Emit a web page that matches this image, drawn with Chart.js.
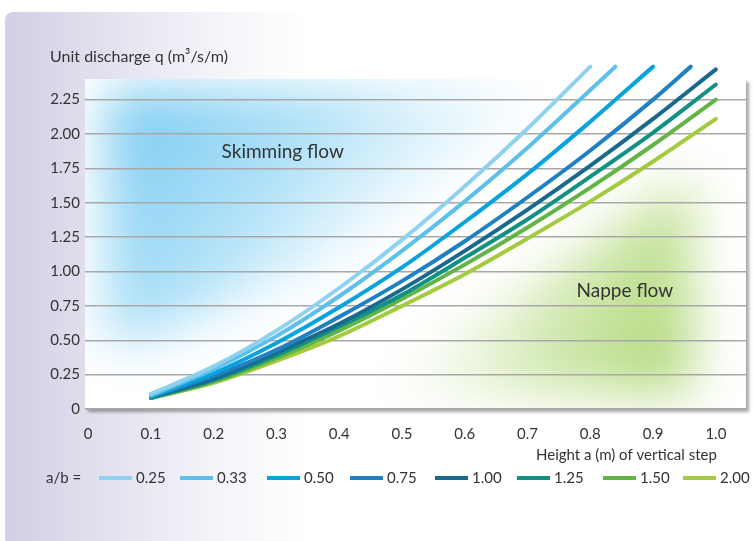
<!DOCTYPE html>
<html>
<head>
<meta charset="utf-8">
<script src="https://cdn.jsdelivr.net/npm/chart.js@4/dist/chart.umd.min.js"></script>
<style>
  html, body { margin: 0; padding: 0; background: #fff; }
  #card {
    position: absolute; left: 5px; top: 12px; width: 760px; height: 540px;
    border-radius: 8px 0 0 0;
    background: linear-gradient(90deg, #d3cfe4 0%, #e2dfed 12%, #f4f3f9 27%, #ffffff 40%);
  }
  #wrap { position: absolute; left: 0; top: 0; width: 753px; height: 541px; }
</style>
</head>
<body>
<div id="card"></div>
<div id="wrap"><canvas id="chart" width="753" height="541"></canvas></div>
<script>
// valeurs
const heights = [0.1, 0.2, 0.3, 0.4, 0.5, 0.6, 0.7, 0.8, 0.9];
const ratioLabels = ['0.25', '0.33', '0.50', '0.75', '1.00', '1.25', '1.50', '2.00'];
const colors = ['#8fd2f0', '#5cc0ea', '#08a3dd', '#1f80c2', '#19698f', '#119183', '#62b544', '#a3cb3d'];

// hauteur où chaque courbe s'arrête (dernier point)
const topHeight = [0.80, 0.84, 0.90, 0.96, 1.0, 1.0, 1.0, 1.0];

const q025 = [0.11, 0.31, 0.57, 0.88, 1.23, 1.62, 2.04, 2.49];
const q033 = [0.10, 0.29, 0.53, 0.82, 1.15, 1.51, 1.90, 2.32, 2.49];
const q050 = [0.09, 0.26, 0.48, 0.74, 1.03, 1.36, 1.71, 2.09, 2.49];
const q075 = [0.09, 0.24, 0.43, 0.67, 0.93, 1.22, 1.54, 1.88, 2.25, 2.49];
const q100 = [0.09, 0.22, 0.41, 0.62, 0.87, 1.15, 1.45, 1.77, 2.11, 2.47];
const q125 = [0.08, 0.21, 0.39, 0.60, 0.83, 1.10, 1.38, 1.69, 2.01, 2.36];
const q150 = [0.08, 0.20, 0.37, 0.57, 0.80, 1.05, 1.32, 1.61, 1.92, 2.25];
const q200 = [0.08, 0.19, 0.35, 0.53, 0.75, 0.98, 1.24, 1.51, 1.80, 2.11];
const series = [q025, q033, q050, q075, q100, q125, q150, q200];

const xTicks = [0, 0.1, 0.2, 0.3, 0.4, 0.5, 0.6, 0.7, 0.8, 0.9, 1.0];
const yTicks = [0, 0.25, 0.5, 0.75, 1.0, 1.25, 1.5, 1.75, 2.0, 2.25];

const FONT = 'Lato, "Open Sans", sans-serif';
const TEXT = '#333333';

function buildPoints(values, endX) {
  const pts = [];
  for (let i = 0; i < values.length - 1; i++) {
    pts.push({ x: heights[i], y: values[i] });
  }
  pts.push({ x: endX, y: values[values.length - 1] });
  return pts;
}

const datasets = series.map((vals, i) => ({
  label: ratioLabels[i],
  data: buildPoints(vals, topHeight[i]),
  borderColor: colors[i],
  borderWidth: 4,
  borderCapStyle: 'round',
  pointRadius: 0,
  cubicInterpolationMode: 'monotone',
  clip: false,
  order: i
}));

// fond du graphique : panneau blanc + zones floues (bleu / vert)
const panelPlugin = {
  id: 'panel',
  beforeDraw(chart) {
    const { ctx, chartArea: a, scales } = chart;
    const X = v => scales.x.getPixelForValue(v);
    const Y = v => scales.y.getPixelForValue(v);
    ctx.save();
    ctx.shadowColor = 'rgba(0,0,0,0.35)';
    ctx.shadowOffsetX = 3;
    ctx.shadowOffsetY = 3;
    ctx.shadowBlur = 3;
    ctx.fillStyle = '#fff';
    ctx.fillRect(a.left, a.top, a.right - a.left, a.bottom - a.top);
    ctx.restore();

    ctx.save();
    ctx.beginPath();
    ctx.rect(a.left, a.top, a.right - a.left, a.bottom - a.top);
    ctx.clip();

    // zone skimming
    ctx.filter = 'blur(26px)';
    const gb = ctx.createLinearGradient(X(0.08), Y(2.3), X(0.5), Y(0.7));
    gb.addColorStop(0, 'rgba(115,200,240,0.95)');
    gb.addColorStop(0.45, 'rgba(140,212,244,0.7)');
    gb.addColorStop(1, 'rgba(200,235,250,0.05)');
    ctx.fillStyle = gb;
    ctx.beginPath();
    ctx.moveTo(X(0.03), Y(2.33));
    ctx.lineTo(X(0.72), Y(2.33));
    ctx.lineTo(X(0.56), Y(1.65));
    ctx.lineTo(X(0.36), Y(1.05));
    ctx.lineTo(X(0.16), Y(0.6));
    ctx.lineTo(X(0.03), Y(0.45));
    ctx.closePath();
    ctx.fill();

    // zone nappe
    const gg = ctx.createLinearGradient(X(0.95), Y(0.3), X(0.55), Y(1.1));
    gg.addColorStop(0, 'rgba(165,210,100,0.9)');
    gg.addColorStop(0.5, 'rgba(180,218,125,0.6)');
    gg.addColorStop(1, 'rgba(210,235,180,0.05)');
    ctx.fillStyle = gg;
    ctx.beginPath();
    ctx.moveTo(X(0.45), Y(0.12));
    ctx.lineTo(X(0.6), Y(0.6));
    ctx.lineTo(X(0.8), Y(1.2));
    ctx.lineTo(X(0.96), Y(1.7));
    ctx.lineTo(X(0.96), Y(0.12));
    ctx.closePath();
    ctx.fill();
    ctx.filter = 'none';
    ctx.restore();
  },
  afterDraw(chart) {
    const { ctx, scales } = chart;
    const X = v => scales.x.getPixelForValue(v);
    const Y = v => scales.y.getPixelForValue(v);
    ctx.save();
    ctx.fillStyle = TEXT;
    ctx.textBaseline = 'middle';

    ctx.font = '16px ' + FONT;
    ctx.textAlign = 'left';
    ctx.fillText('Unit discharge q (m³/s/m)', 50, 57);

    ctx.font = '19px ' + FONT;
    ctx.textAlign = 'center';
    ctx.fillText('Skimming flow', X(0.31), Y(1.87));
    ctx.fillText('Nappe flow', X(0.855), Y(0.86));

    ctx.font = '15px ' + FONT;
    ctx.textAlign = 'right';
    ctx.fillText('Height a (m) of vertical step', X(1.0) + 1, 455);

    // légende
    const ly = 478;
    ctx.textAlign = 'left';
    ctx.fillText('a/b =', 46, ly);
    const swatchX = [99, 180, 267, 350, 435, 517, 603, 683];
    ctx.lineWidth = 4;
    ctx.lineCap = 'butt';
    ratioLabels.forEach((lab, i) => {
      ctx.strokeStyle = colors[i];
      ctx.beginPath();
      ctx.moveTo(swatchX[i], ly);
      ctx.lineTo(swatchX[i] + 33, ly);
      ctx.stroke();
      ctx.fillText(lab, swatchX[i] + 37, ly);
    });
    ctx.restore();
  }
};

new Chart(document.getElementById('chart'), {
  type: 'line',
  data: { datasets },
  options: {
    responsive: false,
    animation: false,
    layout: { padding: { top: 79, right: 7, left: 0, bottom: 0 } },
    plugins: { legend: { display: false }, tooltip: { enabled: false } },
    scales: {
      x: {
        type: 'linear',
        min: -0.005,
        max: 1.048,
        afterBuildTicks: s => { s.ticks = xTicks.map(v => ({ value: v })); },
        afterFit: s => { s.height = 132; },
        grid: { display: false, drawTicks: false },
        border: { display: false },
        ticks: {
          padding: 16,
          color: TEXT,
          font: { family: FONT, size: 15 },
          callback: v => (v === 0 ? '0' : v.toFixed(1))
        }
      },
      y: {
        min: 0,
        max: 2.4,
        afterBuildTicks: s => { s.ticks = yTicks.map(v => ({ value: v })); },
        afterFit: s => { s.width = 85; },
        grid: { color: '#a8a8a8', lineWidth: 1.5, drawTicks: false },
        border: { display: false },
        ticks: {
          padding: 5,
          color: TEXT,
          font: { family: FONT, size: 15 },
          callback: v => (v === 0 ? '0' : v.toFixed(2))
        }
      }
    }
  },
  plugins: [panelPlugin]
});
</script>
</body>
</html>
